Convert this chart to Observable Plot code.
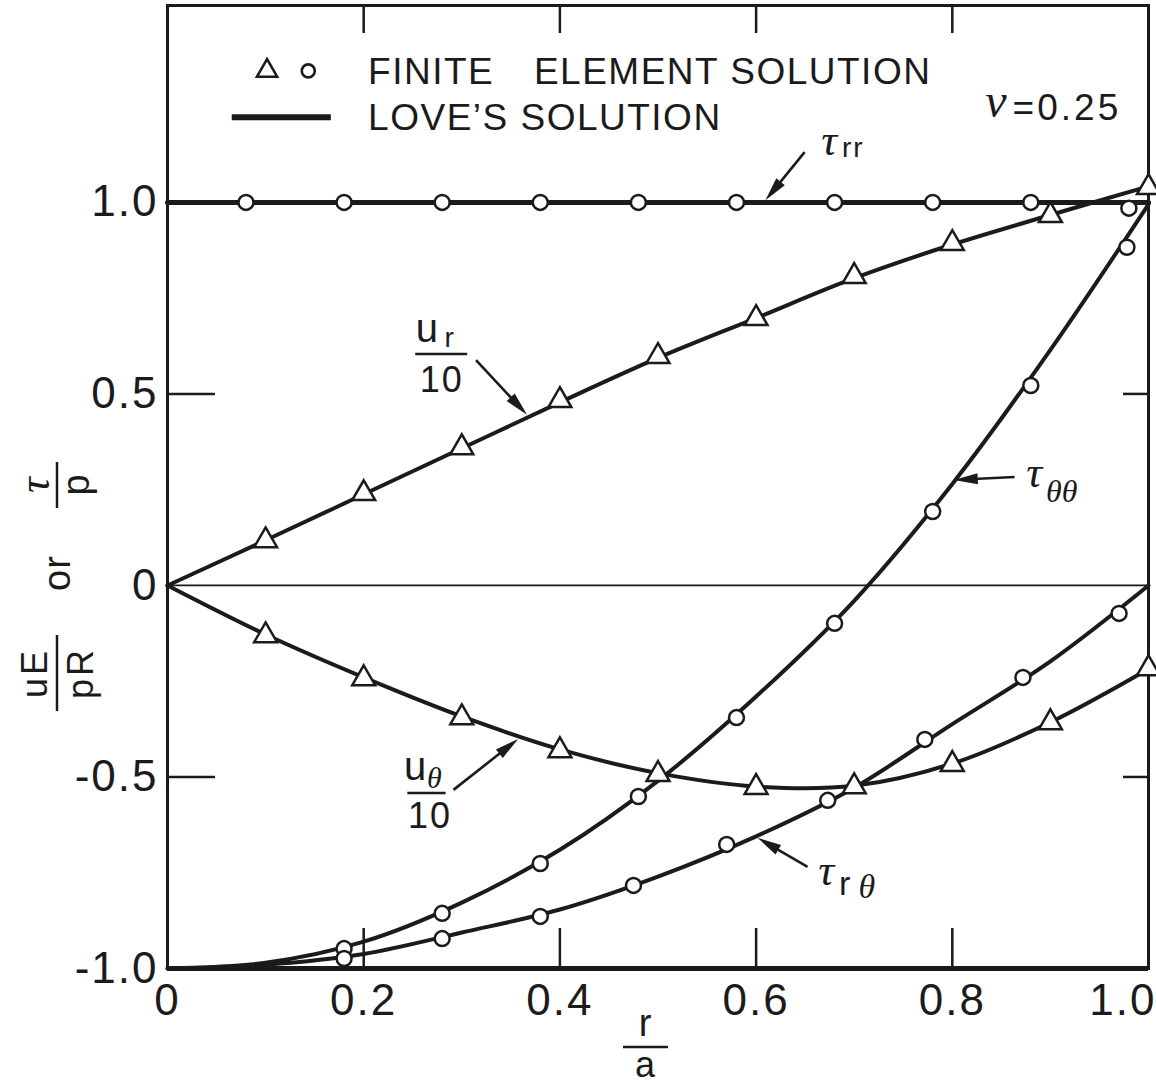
<!DOCTYPE html>
<html>
<head>
<meta charset="utf-8">
<script src="https://cdn.jsdelivr.net/npm/d3@7"></script>
<script src="https://cdn.jsdelivr.net/npm/@observablehq/plot@0.6"></script>
<style>
  html, body { margin: 0; padding: 0; background: #fff; }
  #chart svg { display: block; }
  #chart svg text { letter-spacing: 2px; }
</style>
</head>
<body>
<div id="chart"></div>
<script>
// ---------------- data ----------------
// Love's solution (continuous curves), sampled at r/a = 0, 0.1, ..., 1.0
const loveX   = [0, 0.1, 0.2, 0.3, 0.4, 0.5, 0.6, 0.7, 0.8, 0.9, 1.0];
const loveTrr = [1.0, 1.0, 1.0, 1.0, 1.0, 1.0, 1.0, 1.0, 1.0, 1.0, 1.0];
const loveUr  = [0, 0.118, 0.238, 0.358, 0.478, 0.594, 0.698, 0.802, 0.890, 0.967, 1.042];
const loveUt  = [0, -0.128, -0.240, -0.342, -0.428, -0.490, -0.525, -0.523, -0.465, -0.357, -0.218];
const loveTtt = [-1.0, -0.985, -0.930, -0.828, -0.690, -0.510, -0.290, -0.040, 0.265, 0.615, 0.995];
const loveTrt = [-1.0, -0.990, -0.962, -0.906, -0.846, -0.760, -0.655, -0.528, -0.362, -0.198, 0.0];

// Finite element solution: displacements (triangles)
const feTriX = [0.1, 0.2, 0.3, 0.4, 0.5, 0.6, 0.7, 0.8, 0.9, 1.0];
const feUr   = [0.117, 0.240, 0.360, 0.483, 0.598, 0.697, 0.807, 0.893, 0.966, 1.039];
const feUt   = [-0.131, -0.243, -0.345, -0.431, -0.493, -0.527, -0.525, -0.467, -0.358, -0.217];

// Finite element solution: stresses (circles)
const feTrrX = [0.08, 0.18, 0.28, 0.38, 0.48, 0.58, 0.68, 0.78, 0.88, 0.98];
const feTrr  = [1.0, 1.0, 1.0, 1.0, 1.0, 1.0, 1.0, 1.0, 1.0, 0.985];
const feTttX = [0.18, 0.28, 0.38, 0.48, 0.58, 0.68, 0.78, 0.88, 0.978];
const feTtt  = [-0.948, -0.856, -0.726, -0.551, -0.345, -0.099, 0.193, 0.522, 0.883];
const feTrtX = [0.18, 0.28, 0.38, 0.475, 0.57, 0.673, 0.772, 0.872, 0.97];
const feTrt  = [-0.974, -0.922, -0.864, -0.783, -0.676, -0.561, -0.402, -0.240, -0.073];

// axes
const xTicks      = [0, 0.2, 0.4, 0.6, 0.8, 1.0];
const xTickLabels = ["0", "0.2", "0.4", "0.6", "0.8", "1.0"];
const yTicks      = [-1.0, -0.5, 0, 0.5, 1.0];
const yTickLabels = ["-1.0", "-0.5", "0", "0.5", "1.0"];
const xInnerTicks = [0.2, 0.4, 0.6, 0.8];
const yInnerTicks = [-0.5, 0.5];

// ---------------- styling / layout ----------------
const INK = "#1b1b1b";
const SANS = "'Liberation Sans', Arial, Helvetica, sans-serif";
const SERIF = "'Liberation Serif', 'DejaVu Serif', serif";

// tables built from the arrays
const loveRows = [
  ...loveX.map((x, i) => ({x, y: loveUr[i],  s: "ur"})),
  ...loveX.map((x, i) => ({x, y: loveUt[i],  s: "ut"})),
  ...loveX.map((x, i) => ({x, y: loveTtt[i], s: "ttt"})),
  ...loveX.map((x, i) => ({x, y: loveTrt[i], s: "trt"}))
];
const trrRows = loveX.map((x, i) => ({x, y: loveTrr[i]}));
const triRows = [
  ...feTriX.map((x, i) => ({x, y: feUr[i]})),
  ...feTriX.map((x, i) => ({x, y: feUt[i]}))
];
const circRows = [
  ...feTrrX.map((x, i) => ({x, y: feTrr[i]})),
  ...feTttX.map((x, i) => ({x, y: feTtt[i]})),
  ...feTrtX.map((x, i) => ({x, y: feTrt[i]}))
];

function annotate(index, scales) {
  const X = scales.x, Y = scales.y;
  const g = d3.create("svg:g").attr("fill", INK);
  const txt = (parent, x, y, s, o = {}) => parent.append("text")
    .attr("x", x).attr("y", y)
    .attr("font-family", o.family || SANS)
    .attr("font-size", o.size || 36)
    .attr("font-style", o.italic ? "italic" : null)
    .attr("text-anchor", o.anchor || "start")
    .style("letter-spacing", (o.ls ?? 1) + "px")
    .text(s);
  const T = (xd, yd, s, o) => txt(g, X(xd), Y(yd), s, o);
  const bar = (parent, x1, x2, y, w = 2.5) => parent.append("line")
    .attr("x1", x1).attr("x2", x2).attr("y1", y).attr("y2", y)
    .attr("stroke", INK).attr("stroke-width", w);
  const arrow = (a, b, c, d) => {
    const x1 = X(a), y1 = Y(b), x2 = X(c), y2 = Y(d);
    const dx = x2 - x1, dy = y2 - y1, L = Math.hypot(dx, dy);
    const ux = dx / L, uy = dy / L, h = 24, w = 5.5;
    const bx = x2 - ux * h, by = y2 - uy * h;
    g.append("line").attr("x1", x1).attr("y1", y1).attr("x2", bx + ux * 4).attr("y2", by + uy * 4)
      .attr("stroke", INK).attr("stroke-width", 2.6);
    g.append("path")
      .attr("d", `M${x2},${y2}L${bx - uy * w},${by + ux * w}L${bx + uy * w},${by - ux * w}Z`)
      .attr("fill", INK);
  };

  // legend
  const sym = (type, r) => d3.symbol(type, Math.PI * r * r)();
  g.append("path").attr("d", sym(d3.symbolTriangle, 7.5))
    .attr("transform", `translate(${X(0.102)},${Y(1.342)})`)
    .attr("fill", "white").attr("stroke", INK).attr("stroke-width", 2.6);
  g.append("circle").attr("cx", X(0.144)).attr("cy", Y(1.342)).attr("r", 6.5)
    .attr("fill", "white").attr("stroke", INK).attr("stroke-width", 2.6);
  T(0.205, 1.308, "FINITE", {size: 37, ls: 1.5});
  T(0.374, 1.308, "ELEMENT SOLUTION", {size: 37, ls: 1.5});
  bar(g, X(0.066), X(0.167), Y(1.221), 6);
  T(0.205, 1.188, "LOVE\u2019S SOLUTION", {size: 37, ls: 1.5});

  // nu = 0.25
  T(0.845, 1.221, "\u03BD", {family: SERIF, italic: true, size: 48, anchor: "middle", ls: 0});
  T(0.862, 1.214, "=0.25", {size: 37, ls: 3});

  // tau_rr
  T(0.675, 1.122, "\u03C4", {family: SERIF, italic: true, size: 44, anchor: "middle", ls: 0});
  T(0.688, 1.117, "rr", {size: 28, ls: 2});
  arrow(0.650, 1.130, 0.610, 1.004);

  // u_r / 10
  T(0.265, 0.634, "u", {size: 40, anchor: "middle", ls: 0});
  T(0.283, 0.621, "r", {size: 28, ls: 0});
  bar(g, X(0.253), X(0.306), Y(0.603));
  T(0.280, 0.504, "10", {size: 36, anchor: "middle", ls: 2});
  arrow(0.315, 0.587, 0.367, 0.444);

  // tau_theta theta
  T(0.884, 0.256, "\u03C4", {family: SERIF, italic: true, size: 44, anchor: "middle", ls: 0});
  T(0.896, 0.216, "\u03B8\u03B8", {family: SERIF, italic: true, size: 32, ls: 0});
  arrow(0.864, 0.282, 0.802, 0.274);

  // u_theta / 10
  T(0.253, -0.509, "u", {size: 40, anchor: "middle", ls: 0});
  T(0.265, -0.530, "\u03B8", {family: SERIF, italic: true, size: 30, ls: 0});
  bar(g, X(0.245), X(0.284), Y(-0.543));
  T(0.268, -0.634, "10", {size: 36, anchor: "middle", ls: 2});
  arrow(0.292, -0.535, 0.358, -0.402);

  // tau_r theta
  T(0.672, -0.783, "\u03C4", {family: SERIF, italic: true, size: 44, anchor: "middle", ls: 0});
  T(0.685, -0.809, "r", {size: 34, ls: 0});
  T(0.705, -0.817, "\u03B8", {family: SERIF, italic: true, size: 34, ls: 0});
  arrow(0.653, -0.736, 0.602, -0.660);

  // y-axis label (rotated):  uE/pR  or  tau/p
  const yl = g.append("g").attr("transform", "translate(57,588) rotate(-90)");
  txt(yl, -85, -10, "uE", {size: 36, anchor: "middle", ls: 3});
  bar(yl, -123, -47, 0);
  txt(yl, -85, 36, "pR", {size: 36, anchor: "middle", ls: 3});
  txt(yl, 15, 13, "or", {size: 38, anchor: "middle", ls: 1});
  txt(yl, 103, -8, "\u03C4", {family: SERIF, italic: true, size: 44, anchor: "middle", ls: 0});
  bar(yl, 80, 126, 0);
  txt(yl, 103, 32, "p", {size: 38, anchor: "middle", ls: 0});

  // x-axis label  r/a
  txt(g, 645, 1036, "r", {size: 38, anchor: "middle", ls: 0});
  bar(g, 623, 668, 1047);
  txt(g, 645, 1077, "a", {size: 36, anchor: "middle", ls: 0});

  return g.node();
}

const chart = Plot.plot({
  width: 1156,
  height: 1086,
  marginLeft: 167,
  marginRight: 8,
  marginTop: 5,
  marginBottom: 118,
  x: {domain: [0, 1.0], label: null, axis: null},
  y: {domain: [-1.0, 1.514], label: null, axis: null},
  style: {fontFamily: SANS, color: INK, background: "#fff", overflow: "visible"},
  marks: [
    Plot.ruleY([0], {stroke: INK, strokeWidth: 1.8}),
    Plot.line(loveRows, {x: "x", y: "y", z: "s", stroke: INK, strokeWidth: 4, curve: "catmull-rom"}),
    Plot.line(trrRows, {x: "x", y: "y", stroke: INK, strokeWidth: 5}),
    Plot.frame({stroke: INK, strokeWidth: 3}),
    Plot.ruleY([yTicks[0]], {stroke: INK, strokeWidth: 5}),
    // inward tick marks
    Plot.axisX({ticks: xInnerTicks, anchor: "bottom", tickSize: -40, fill: "none", tickFormat: () => "", label: null, stroke: INK, strokeWidth: 2.5}),
    Plot.axisX({ticks: xInnerTicks, anchor: "top", tickSize: -27, fill: "none", tickFormat: () => "", label: null, stroke: INK, strokeWidth: 2.5}),
    Plot.axisY({ticks: yInnerTicks, anchor: "left", tickSize: -48, fill: "none", tickFormat: () => "", label: null, stroke: INK, strokeWidth: 2.5}),
    Plot.axisY({ticks: yInnerTicks, anchor: "right", tickSize: -26, fill: "none", tickFormat: () => "", label: null, stroke: INK, strokeWidth: 2.5}),
    // tick labels
    Plot.axisX({ticks: xTicks.slice(0, -1), anchor: "bottom", tickSize: 0, tickPadding: 15, fontSize: 44, label: null, fill: INK,
      tickFormat: d => xTickLabels[xTicks.indexOf(d)]}),
    Plot.axisX({ticks: xTicks.slice(-1), anchor: "bottom", tickSize: 0, tickPadding: 15, fontSize: 44, label: null, fill: INK,
      textAnchor: "end", dx: 8, tickFormat: d => xTickLabels[xTicks.indexOf(d)]}),
    Plot.axisY({ticks: yTicks, anchor: "left", tickSize: 0, tickPadding: 9, fontSize: 44, label: null, fill: INK,
      tickFormat: d => yTickLabels[yTicks.indexOf(d)]}),
    // finite element points
    Plot.dot(circRows, {x: "x", y: "y", r: 7.5, fill: "white", stroke: INK, strokeWidth: 2.5}),
    Plot.dot(triRows, {x: "x", y: "y", symbol: "triangle", r: 8.5, fill: "white", stroke: INK, strokeWidth: 2.5}),
    annotate
  ]
});
document.getElementById("chart").append(chart);
</script>
</body>
</html>
